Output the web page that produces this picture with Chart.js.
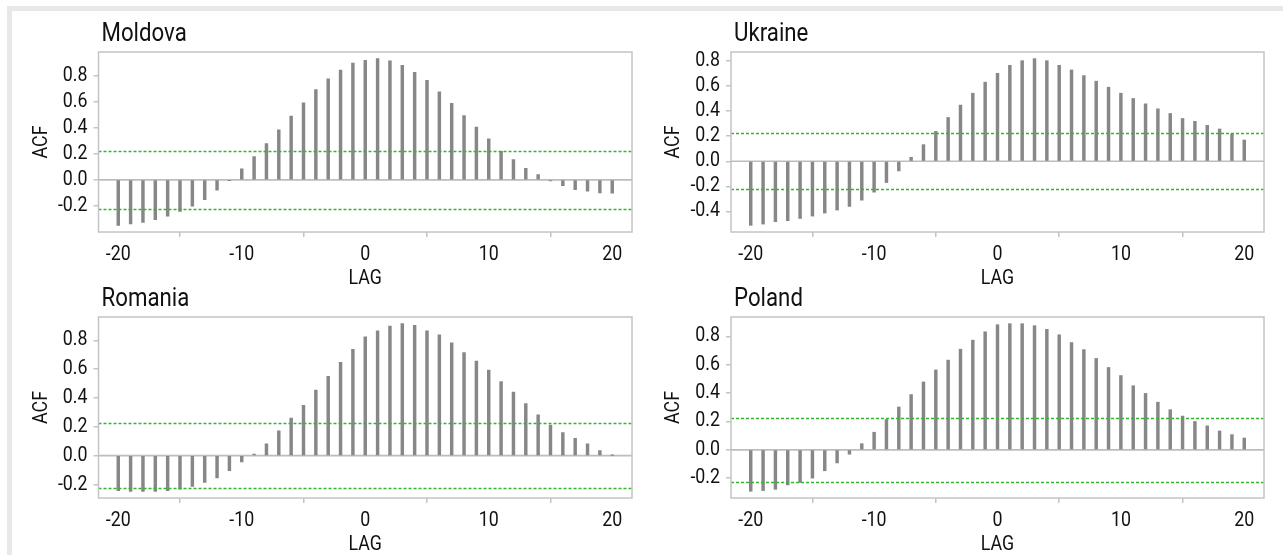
<!DOCTYPE html>
<html><head><meta charset="utf-8">
<script src="https://cdn.jsdelivr.net/npm/chart.js@4.4.1/dist/chart.umd.min.js"></script>
<style>
html,body{margin:0;padding:0;background:#fff;width:1283px;height:555px;overflow:hidden}
#frame{position:absolute;left:7px;top:6px;width:1276px;height:549px;border-top:5px solid #e8e8e8;border-left:5px solid #e8e8e8;box-sizing:border-box}
canvas{position:absolute;left:0;top:0}
</style></head><body>
<div id="frame"></div>
<canvas id="c0" width="1283" height="555"></canvas>
<canvas id="c1" width="1283" height="555"></canvas>
<canvas id="c2" width="1283" height="555"></canvas>
<canvas id="c3" width="1283" height="555"></canvas>
<script>
// ---- data ----
const lags = [-20,-19,-18,-17,-16,-15,-14,-13,-12,-11,-10,-9,-8,-7,-6,-5,-4,-3,-2,-1,0,1,2,3,4,5,6,7,8,9,10,11,12,13,14,15,16,17,18,19,20];
const moldovaACF = [-0.350,-0.340,-0.327,-0.306,-0.280,-0.242,-0.203,-0.152,-0.080,-0.004,
  0.085,0.180,0.280,0.386,0.491,0.594,0.695,0.779,0.846,0.900,
  0.921,0.934,0.918,0.882,0.828,0.767,0.679,0.589,0.496,0.406,0.316,
  0.221,0.157,0.090,0.041,-0.008,-0.044,-0.075,-0.087,-0.100,-0.103];
const ukraineACF = [-0.512,-0.502,-0.483,-0.475,-0.457,-0.438,-0.414,-0.390,-0.361,-0.311,
  -0.247,-0.170,-0.077,0.032,0.133,0.239,0.350,0.449,0.544,0.632,
  0.703,0.767,0.804,0.820,0.804,0.767,0.730,0.685,0.640,0.592,0.544,
  0.502,0.459,0.419,0.382,0.342,0.319,0.287,0.258,0.218,0.170];
const romaniaACF = [-0.242,-0.247,-0.247,-0.247,-0.242,-0.233,-0.214,-0.186,-0.154,-0.103,
  -0.044,0.012,0.082,0.172,0.261,0.350,0.455,0.550,0.648,0.739,
  0.825,0.867,0.900,0.916,0.904,0.867,0.839,0.783,0.716,0.657,0.594,
  0.515,0.441,0.361,0.284,0.212,0.161,0.121,0.082,0.035,0.002];
const polandACF = [-0.293,-0.288,-0.279,-0.248,-0.231,-0.200,-0.148,-0.093,-0.031,0.043,
  0.124,0.214,0.302,0.390,0.479,0.564,0.633,0.710,0.774,0.833,
  0.883,0.890,0.890,0.876,0.850,0.812,0.757,0.707,0.645,0.581,0.524,
  0.452,0.398,0.336,0.283,0.238,0.200,0.169,0.133,0.107,0.083];
const confBand = [0.224, -0.224];
const xTickValues = [-20,-10,0,10,20];
const yTicksMoldova = [-0.2,0,0.2,0.4,0.6,0.8];
const yTicksUkraine = [-0.4,-0.2,0,0.2,0.4,0.6,0.8];
const yTicksRomania = [-0.2,0,0.2,0.4,0.6,0.8];
const yTicksPoland = [-0.2,0,0.2,0.4,0.6,0.8];
const titles = ['Moldova','Ukraine','Romania','Poland'];

// ---- layout ----
const W = 1283, H = 555, YW = 70, XH = 59;
const boxes = [
  {L:98.5, R:632, T:52, B:232},
  {L:731, R:1264, T:52, B:232},
  {L:98.5, R:632, T:317, B:498},
  {L:731, R:1264, T:317, B:498}
];
Chart.defaults.font.family = 'Roboto';
const TXT = '#111111', FRAME = '#c4c4c4', SX = 0.89;

// draw all text slightly condensed (reference uses a narrow face)
const condense = {
  id:'condense',
  beforeInit(chart){
    const ctx = chart.ctx;
    const orig = ctx.fillText;
    ctx.fillText = function(t, x, y){
      this.save(); this.translate(x, y); this.scale(SX, 1);
      orig.call(this, t, 0, 0);
      this.restore();
    };
  }
};

// zero line and confidence band, positioned through the y scale
const refLines = {
  id:'refLines',
  beforeDatasetsDraw(chart){
    const {ctx, chartArea:a, scales:{y}} = chart;
    const py = y.getPixelForValue(0);
    ctx.save();
    ctx.strokeStyle = '#bdbdbd'; ctx.lineWidth = 1.7; ctx.setLineDash([]);
    ctx.beginPath(); ctx.moveTo(a.left, py); ctx.lineTo(a.right, py); ctx.stroke();
    ctx.restore();
  },
  afterDatasetsDraw(chart){
    const {ctx, chartArea:a, scales:{y}} = chart;
    ctx.save();
    ctx.strokeStyle = '#33b433'; ctx.lineWidth = 1.4; ctx.setLineDash([3,2]);
    confBand.forEach(c => {
      const py = Math.round(y.getPixelForValue(c)) + 0.5;
      ctx.beginPath(); ctx.moveTo(a.left, py); ctx.lineTo(a.right, py); ctx.stroke();
    });
    ctx.restore();
  }
};

const boxPlugin = {
  id:'boxPlugin',
  afterDraw(chart, args, opts){
    const {ctx, chartArea:a} = chart;
    ctx.save();
    ctx.strokeStyle = FRAME; ctx.lineWidth = 1.5;
    ctx.strokeRect(a.left, a.top, a.right-a.left, a.bottom-a.top);
    ctx.fillStyle = TXT;
    ctx.font = '25px Roboto';
    ctx.textBaseline = 'alphabetic';
    ctx.textAlign = 'left';
    ctx.fillText(opts.text, a.left + 3, a.top - 11);
    ctx.restore();
  }
};

function makeChart(idx, values, yTicks){
  const box = boxes[idx];
  const xMin = -21.6, xMax = 21.6;
  const vmin = Math.min(...values), vmax = Math.max(...values);
  const pad = 0.04*(vmax - vmin);
  new Chart(document.getElementById('c'+idx), {
    type:'bar',
    data:{datasets:[
      {type:'bar', data:lags.map((l,i)=>({x:l,y:values[i]})), backgroundColor:'#878787',
       barThickness:2.8, grouped:false}
    ]},
    options:{
      responsive:false, animation:false, devicePixelRatio:1,
      layout:{padding:{left:box.L-YW, top:box.T, right:W-box.R, bottom:H-box.B-XH}},
      plugins:{legend:{display:false}, tooltip:{enabled:false}, title:{display:false},
               boxPlugin:{text:titles[idx]}},
      scales:{
        x:{type:'linear', min:xMin, max:xMax, offset:false,
           afterBuildTicks:s=>{s.ticks = xTickValues.map(v=>({value:v}));},
           afterFit:s=>{s.height = XH;},
           grid:{display:true, drawOnChartArea:false, drawTicks:true, tickLength:5, color:FRAME, lineWidth:1.5},
           border:{display:false},
           ticks:{font:{size:20}, color:TXT, padding:6, maxRotation:0, autoSkip:false, callback:v=>String(v)},
           title:{display:true, text:'LAG', font:{size:20}, color:TXT, padding:0}
        },
        y:{type:'linear', min:vmin-pad, max:vmax+pad,
           afterBuildTicks:s=>{s.ticks = yTicks.map(v=>({value:v}));},
           afterFit:s=>{s.width = YW;},
           grid:{display:true, drawOnChartArea:false, drawTicks:true, tickLength:5, color:FRAME, lineWidth:1.5},
           border:{display:false},
           ticks:{font:{size:20}, color:TXT, padding:6, autoSkip:false, callback:v=>Number(v).toFixed(1)},
           title:{display:true, text:'ACF', font:{size:20}, color:TXT, padding:{top:1}}
        }
      }
    },
    plugins:[condense, refLines, boxPlugin]
  });
}
makeChart(0, moldovaACF, yTicksMoldova);
makeChart(1, ukraineACF, yTicksUkraine);
makeChart(2, romaniaACF, yTicksRomania);
makeChart(3, polandACF, yTicksPoland);
</script>
</body></html>
